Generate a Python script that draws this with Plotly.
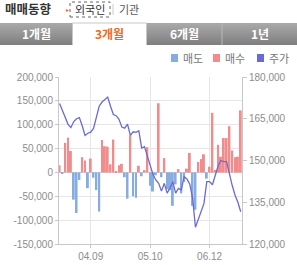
import plotly.graph_objects as go

# ---- data ----
days = list(range(65))
buy = [15000, 0, 62000, 73000, 45000, 0, 0, 0, 32000, 25000,
       0, 29000, 0, 0, 0, 68000, 55000, 54000, 17000, 69000,
       3000, 15000, 18000, 0, 0, 78000, 0, 0, 14000, 0,
       5000, 53000, 0, 0, 0, 145000, 0, 30000, 0, 0,
       0, 0, 7000, 0, 0, 8000, 41000, 0, 0, 22000,
       28000, 38000, 0, 12000, 125000, 5000, 58000, 33000, 72000, 72000,
       97000, 46000, 32000, 33000, 130000]
sell = [0, -3000, 0, 0, 0, -57000, -85000, -16000, 0, 0,
        -33000, 0, -11000, -37000, -82000, 0, 0, 0, 0, 0,
        0, 0, 0, -10000, -55000, 0, -50000, -53000, 0, -8000,
        0, 0, -28000, -40000, -6000, 0, -10000, 0, -35000, -37000,
        -70000, -25000, 0, -44000, -20000, 0, 0, -70000, -78000, 0,
        0, 0, -13000, 0, 0, 0, 0, 0, 0, 0,
        0, 0, 0, 0, 0]
price = [170500, 168000, 165000, 163000, 161800, 164000, 165000, 165400, 162500, 159000,
         159800, 160200, 161500, 165500, 169500, 171000, 171800, 172800, 169500, 166500,
         166100, 164800, 162000, 161600, 163100, 159000, 160300, 160100, 160700, 154500,
         155000, 151400, 148700, 145000, 143000, 141800, 139000, 141800, 138300, 140000,
         142400, 138300, 140000, 139400, 144200, 143400, 141500, 136500, 126000, 128600,
         131800, 134500, 142400, 142400, 141300, 145000, 148000, 150000, 149600, 149600,
         145000, 141000, 137500, 135000, 131600]

x_tickvals = [11, 32, 53]
x_ticktext = ["04.09", "05.10", "06.12"]
left_tickvals = [200000, 150000, 100000, 50000, 0, -50000, -100000, -150000]
left_ticktext = ["200,000", "150,000", "100,000", "50,000", "0", "-50,000", "-100,000", "-150,000"]
right_tickvals = [180000, 165000, 150000, 135000, 120000]
right_ticktext = ["180,000", "165,000", "150,000", "135,000", "120,000"]

tabs = ["1개월", "3개월", "6개월", "1년"]
legend_names = ["매도", "매수", "주가"]

W, H = 297, 265
def px(x):
    return x / W
def py(y):
    return 1 - y / H

C_SELL = "#86ace2"
C_BUY = "#f28c8c"
C_LINE = "#6a6ad4"

fig = go.Figure()
fig.add_trace(go.Bar(x=days, y=sell, name="매도", marker_color=C_SELL, marker_line_width=0, showlegend=False))
fig.add_trace(go.Bar(x=days, y=buy, name="매수", marker_color=C_BUY, marker_line_width=0, showlegend=False))
fig.add_trace(go.Scatter(x=days, y=price, name="주가", mode="lines", yaxis="y2",
                         line=dict(color=C_LINE, width=1.3), showlegend=False))

tickfont = dict(family="Liberation Sans, Arial, sans-serif", size=10, color="#8c8c8c")
fig.update_layout(
    width=W, height=H, margin=dict(l=0, r=0, t=0, b=0),
    template="none", paper_bgcolor="white", plot_bgcolor="white",
    barmode="relative", bargap=0.3,
    xaxis=dict(domain=[59 / W, 242 / W], range=[-0.2, 64.45], tickvals=x_tickvals, ticktext=x_ticktext,
               showgrid=True, gridcolor="#e6e6e6", gridwidth=1, zeroline=False,
               showline=True, linecolor="#c8c8c8", ticks="outside", ticklen=3, tickcolor="#c8c8c8",
               tickfont=tickfont, automargin=False, fixedrange=True),
    yaxis=dict(domain=[1 - 244 / H, 1 - 77 / H], range=[-150000, 200000],
               tickvals=left_tickvals, ticktext=left_ticktext,
               showgrid=True, gridcolor="#e6e6e6", gridwidth=1, zeroline=True, zerolinecolor="#d0d0d0",
               zerolinewidth=1, showline=True, linecolor="#c8c8c8", ticks="outside", ticklen=3,
               tickcolor="#c8c8c8", tickfont=tickfont, automargin=False, fixedrange=True),
    yaxis2=dict(overlaying="y", side="right", range=[120000, 180000],
                tickvals=right_tickvals, ticktext=right_ticktext, showgrid=False, zeroline=False,
                showline=True, linecolor="#c8c8c8", ticks="outside", ticklen=4, tickcolor="#c8c8c8",
                tickfont=tickfont, automargin=False, fixedrange=True),
)

shapes = []
ann = []
kfont = "Noto Sans CJK KR, sans-serif"

# header
ann.append(dict(x=px(3), y=py(9), xref="paper", yref="paper", text="<b>매매동향</b>", showarrow=False,
                xanchor="left", yanchor="middle", font=dict(family=kfont, size=12.5, color="#333333")))
ann.append(dict(x=px(67), y=py(10), xref="paper", yref="paper", text="▸", showarrow=False,
                xanchor="center", yanchor="middle", font=dict(family=kfont, size=6, color="#e07030")))
shapes.append(dict(type="rect", xref="paper", yref="paper", x0=px(70), x1=px(110), y0=py(17), y1=py(2),
                   line=dict(color="#666666", width=1, dash="dot")))
ann.append(dict(x=px(90), y=py(9.5), xref="paper", yref="paper", text="외국인", showarrow=False,
                xanchor="center", yanchor="middle", font=dict(family=kfont, size=11, color="#333333")))
shapes.append(dict(type="line", xref="paper", yref="paper", x0=px(113), x1=px(113), y0=py(4), y1=py(15),
                   line=dict(color="#cccccc", width=1)))
ann.append(dict(x=px(117), y=py(9.5), xref="paper", yref="paper", text="기관", showarrow=False,
                xanchor="left", yanchor="middle", font=dict(family=kfont, size=11, color="#555555")))

# tabs
tab_x = [(0, 72), (72, 147), (147, 222), (222, 297)]
top, bot = 23, 45
for i, ((a, b), label) in enumerate(zip(tab_x, tabs)):
    if i == 1:
        shapes.append(dict(type="rect", xref="paper", yref="paper", x0=px(a), x1=px(b), y0=py(bot), y1=py(top),
                           fillcolor="white", line=dict(width=0)))
        shapes.append(dict(type="path", xref="paper", yref="paper",
                           path=f"M {px(a+0.5)} {py(bot)} L {px(a+0.5)} {py(top)} L {px(b-0.5)} {py(top)} L {px(b-0.5)} {py(bot)}",
                           line=dict(color="#c8c8c8", width=1)))
        color = "#ec6a1e"
    else:
        n = 11
        for k in range(n):
            y0 = top + (bot - top) * k / n
            y1 = top + (bot - top) * (k + 1) / n
            v = int(0xa8 - (0xa8 - 0x80) * k / (n - 1))
            shapes.append(dict(type="rect", xref="paper", yref="paper", x0=px(a), x1=px(b), y0=py(y1), y1=py(y0),
                               fillcolor=f"rgb({v},{v},{v})", line=dict(width=0)))
        color = "white"
    ann.append(dict(x=px((a + b) / 2), y=py(34), xref="paper", yref="paper", text=f"<b>{label}</b>",
                    showarrow=False, xanchor="center", yanchor="middle",
                    font=dict(family=kfont, size=12, color=color)))
shapes.append(dict(type="line", xref="paper", yref="paper", x0=px(222), x1=px(222), y0=py(bot), y1=py(top),
                   line=dict(color="#b8b8b8", width=1)))

# legend
leg = [(171, C_SELL), (213, C_BUY), (257, C_LINE)]
for (lx, c), name in zip(leg, legend_names):
    shapes.append(dict(type="rect", xref="paper", yref="paper", x0=px(lx), x1=px(lx + 7), y0=py(62), y1=py(54),
                       fillcolor=c, line=dict(width=0)))
    ann.append(dict(x=px(lx + 10), y=py(58), xref="paper", yref="paper", text=name, showarrow=False,
                    xanchor="left", yanchor="middle", font=dict(family=kfont, size=11, color="#777777")))

fig.update_layout(shapes=shapes, annotations=ann)
fig.write_html("out.html", config={"displayModeBar": False})
